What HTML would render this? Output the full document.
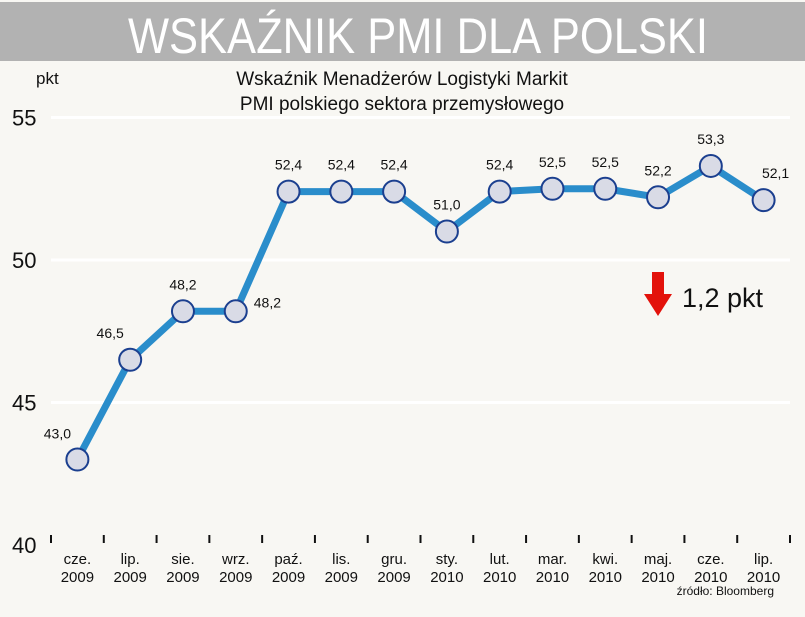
<!DOCTYPE html>
<html><head><meta charset="utf-8"><style>
body{margin:0;background:#f8f7f3;width:805px;height:612px;overflow:hidden;font-family:"Liberation Sans",sans-serif}
</style></head><body>
<svg width="805" height="612" font-family="Liberation Sans, sans-serif">
<rect x="0" y="0" width="805" height="612" fill="#f8f7f3"/>
<rect x="0" y="2" width="805" height="59" fill="#b2b2b2"/>
<text x="418" y="53" text-anchor="middle" font-size="50" fill="#fff" textLength="580" lengthAdjust="spacingAndGlyphs">WSKAŹNIK PMI DLA POLSKI</text>
<text x="402" y="85" text-anchor="middle" font-size="19" fill="#111">Wskaźnik Menadżerów Logistyki Markit</text>
<text x="402" y="110" text-anchor="middle" font-size="19" fill="#111">PMI polskiego sektora przemysłowego</text>
<text x="36" y="84" font-size="17" fill="#111">pkt</text>
<g id="grid"></g><g id="axis"></g><g id="series"></g>
<g>
<polygon points="652,272 664,272 664,294 672,294 658,316 644,294 652,294" fill="#e3120b"/>
<text x="682" y="307" font-size="27" fill="#111">1,2 pkt</text>
</g>
<text x="774" y="595" text-anchor="end" font-size="12" fill="#111">źródło: Bloomberg</text>
</svg>
<script>
const months=["cze.","lip.","sie.","wrz.","paź.","lis.","gru.","sty.","lut.","mar.","kwi.","maj.","cze.","lip."];
const years=["2009","2009","2009","2009","2009","2009","2009","2010","2010","2010","2010","2010","2010","2010"];
const values=[43.0,46.5,48.2,48.2,52.4,52.4,52.4,51.0,52.4,52.5,52.5,52.2,53.3,52.1];
const yTicks=[40,45,50,55];
const NS="http://www.w3.org/2000/svg";
const x0=51,x1=790,y0=545,ppu=28.5;
const step=(x1-x0)/months.length;
const X=i=>x0+step*(i+0.5);
const Y=v=>y0-(v-40)*ppu;
function mk(t,a,p){const e=document.createElementNS(NS,t);for(const k in a)e.setAttribute(k,a[k]);p.appendChild(e);return e;}
const grid=document.getElementById('grid'),axis=document.getElementById('axis'),series=document.getElementById('series');
yTicks.forEach(v=>{
 if(v>40){const l=mk('line',{x1:x0,x2:x1,y1:Y(v),y2:Y(v),stroke:'#fff','stroke-width':3},grid);
 
 }
 const t=mk('text',{x:12,y:Y(v)+8,'font-size':22,fill:'#111'},axis);t.textContent=v;
 
 
});
for(let i=0;i<=months.length;i++){
 const tk=mk('line',{x1:x0+step*i,x2:x0+step*i,y1:y0-10,y2:y0-2,stroke:'#111','stroke-width':2},axis);
 
 
}
months.forEach((m,i)=>{
 const t=mk('text',{x:X(i),y:564,'text-anchor':'middle','font-size':15,fill:'#111'},axis);t.textContent=m;
 
 
 const t2=mk('text',{x:X(i),y:582,'text-anchor':'middle','font-size':15,fill:'#111'},axis);t2.textContent=years[i];
 
 
});
const line=mk('polyline',{points:values.map((v,i)=>X(i)+','+Y(v)).join(' '),fill:'none',stroke:'#2a8dcb','stroke-width':7,'stroke-linejoin':'round'},series);


values.forEach((v,i)=>{
 const c=mk('circle',{cx:X(i),cy:Y(v),r:11,fill:'#d9dbe6',stroke:'#1b3f8f','stroke-width':2},series);
 
 
 let lx=X(i),ly=Y(v)-22,anc='middle';
 if(i==0){lx=X(i)-20;ly=Y(v)-21;}
 if(i==1){lx=X(i)-20;}
 if(i==3){lx=X(i)+18;ly=Y(v)-4;anc='start';}
 if(i==13){lx=X(i)+12;}
 const t=mk('text',{x:lx,y:ly,'text-anchor':anc,'font-size':14,fill:'#111'},series);
 t.textContent=v.toFixed(1).replace('.',',');
 
 
});
</script>
</body></html>
